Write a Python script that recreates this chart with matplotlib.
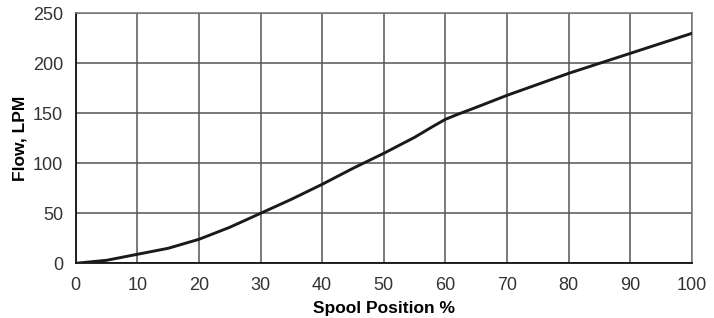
import matplotlib.pyplot as plt
import numpy as np

# spool position (%) vs flow (LPM)
spool_pos = [0, 5, 10, 15, 20, 25, 30, 35, 40, 45, 50, 55, 58, 60, 62, 65, 70, 75, 80, 85, 90, 95, 100]
flow_lpm = [0, 3, 9, 15, 24, 36, 50, 64, 79, 95, 110, 126, 137, 144, 149, 156, 168, 179, 190, 200, 210, 220, 230]

x_ticks = np.arange(0, 101, 10)
y_ticks = np.arange(0, 251, 50)

plt.rcParams['font.family'] = ['Liberation Sans', 'DejaVu Sans']

fig, ax = plt.subplots(figsize=(7.14, 3.18), dpi=100)
fig.subplots_adjust(left=0.106, right=0.969, top=0.958, bottom=0.172)

ax.plot(spool_pos, flow_lpm, color='#1a1a1a', linewidth=2.1, solid_capstyle='round',
        solid_joinstyle='round', zorder=3)

ax.set_xlim(0, 100)
ax.set_ylim(0, 250)
ax.set_xticks(x_ticks)
ax.set_yticks(y_ticks)
ax.grid(True, color='#555555', linewidth=1.1)
ax.tick_params(length=0, labelsize=13, labelcolor='#333333')
ax.tick_params(axis='x', pad=10)
ax.tick_params(axis='y', pad=9)

for side in ['top', 'right']:
    ax.spines[side].set_color('#777777')
    ax.spines[side].set_linewidth(1.1)
for side in ['left', 'bottom']:
    ax.spines[side].set_color('#111111')
    ax.spines[side].set_linewidth(1.3)

ax.set_xlabel('Spool Position %', fontsize=12.5, fontweight='bold', labelpad=5)
ax.set_ylabel('Flow, LPM', fontsize=12.5, fontweight='bold', labelpad=4)

fig.savefig('out.png', dpi=100)
